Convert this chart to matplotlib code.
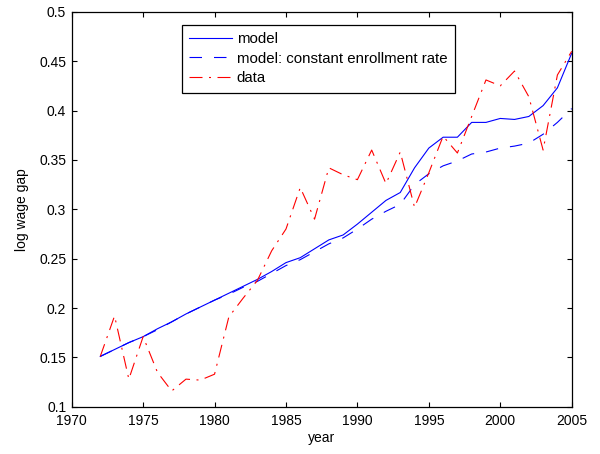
import numpy as np
import matplotlib
matplotlib.use('Agg')
import matplotlib.pyplot as plt
from matplotlib.ticker import FormatStrFormatter

plt.rcParams['font.family'] = ['Liberation Sans', 'DejaVu Sans']
plt.rcParams['font.size'] = 10
plt.rcParams['lines.scale_dashes'] = False

# 年份
years = np.arange(1972, 2006)

# 模型（基准）
model = [0.151, 0.158, 0.165, 0.171, 0.179, 0.186, 0.194, 0.201, 0.208, 0.215,
         0.222, 0.229, 0.237, 0.246, 0.251, 0.260, 0.269, 0.274, 0.285, 0.297,
         0.309, 0.317, 0.342, 0.362, 0.373, 0.373, 0.388, 0.388, 0.392, 0.391,
         0.394, 0.405, 0.423, 0.458]

# 模型：入学率不变
model_const = [0.151, 0.158, 0.165, 0.171, 0.178, 0.186, 0.194, 0.201, 0.208, 0.214,
               0.221, 0.227, 0.235, 0.243, 0.249, 0.257, 0.265, 0.271, 0.280, 0.290,
               0.298, 0.305, 0.325, 0.336, 0.344, 0.349, 0.356, 0.358, 0.362, 0.364,
               0.367, 0.376, 0.388, 0.402]

# 实际数据
data = [0.151, 0.192, 0.128, 0.171, 0.135, 0.116, 0.128, 0.127, 0.133, 0.191,
        0.210, 0.228, 0.258, 0.280, 0.322, 0.290, 0.342, 0.335, 0.330, 0.360,
        0.326, 0.358, 0.302, 0.337, 0.374, 0.357, 0.394, 0.431, 0.425, 0.440,
        0.414, 0.360, 0.436, 0.460]

fig = plt.figure(figsize=(6, 4.54), dpi=100)
ax = fig.add_axes([0.1195, 0.104, 0.8333, 0.870])

px = 0.72  # 1像素对应的磅数
ax.plot(years, model, color='b', lw=0.8, label='model')
ax.plot(years, model_const, color='b', lw=0.8, dashes=(12.5 * px, 12 * px),
        label='model: constant enrollment rate')
ax.plot(years, data, color='r', lw=0.8, dashes=(13 * px, 6.5 * px, 2 * px, 6.5 * px),
        label='data')

ax.set_xlim(1970, 2005)
ax.set_ylim(0.1, 0.5)
ax.set_xticks(np.arange(1970, 2006, 5))
ax.set_yticks(np.arange(0.1, 0.501, 0.05))
ax.yaxis.set_major_formatter(FormatStrFormatter('%g'))
ax.tick_params(direction='in', length=3.6, width=0.8, top=True, right=True,
               labelsize=10)
ax.tick_params(axis='x', pad=5)
ax.tick_params(axis='y', pad=4)
for s in ax.spines.values():
    s.set_linewidth(0.9)

ax.set_xlabel('year', fontsize=10, labelpad=2)
ax.set_ylabel('log wage gap', fontsize=10, labelpad=7)

leg = ax.legend(loc='upper left', bbox_to_anchor=(0.22, 0.967), borderaxespad=0,
                fancybox=False, framealpha=1, edgecolor='k', fontsize=10.8,
                handlelength=2.87, handletextpad=0.3, borderpad=0.5,
                labelspacing=0.36)
leg.get_frame().set_linewidth(0.9)

fig.savefig('out.png', dpi=100)
